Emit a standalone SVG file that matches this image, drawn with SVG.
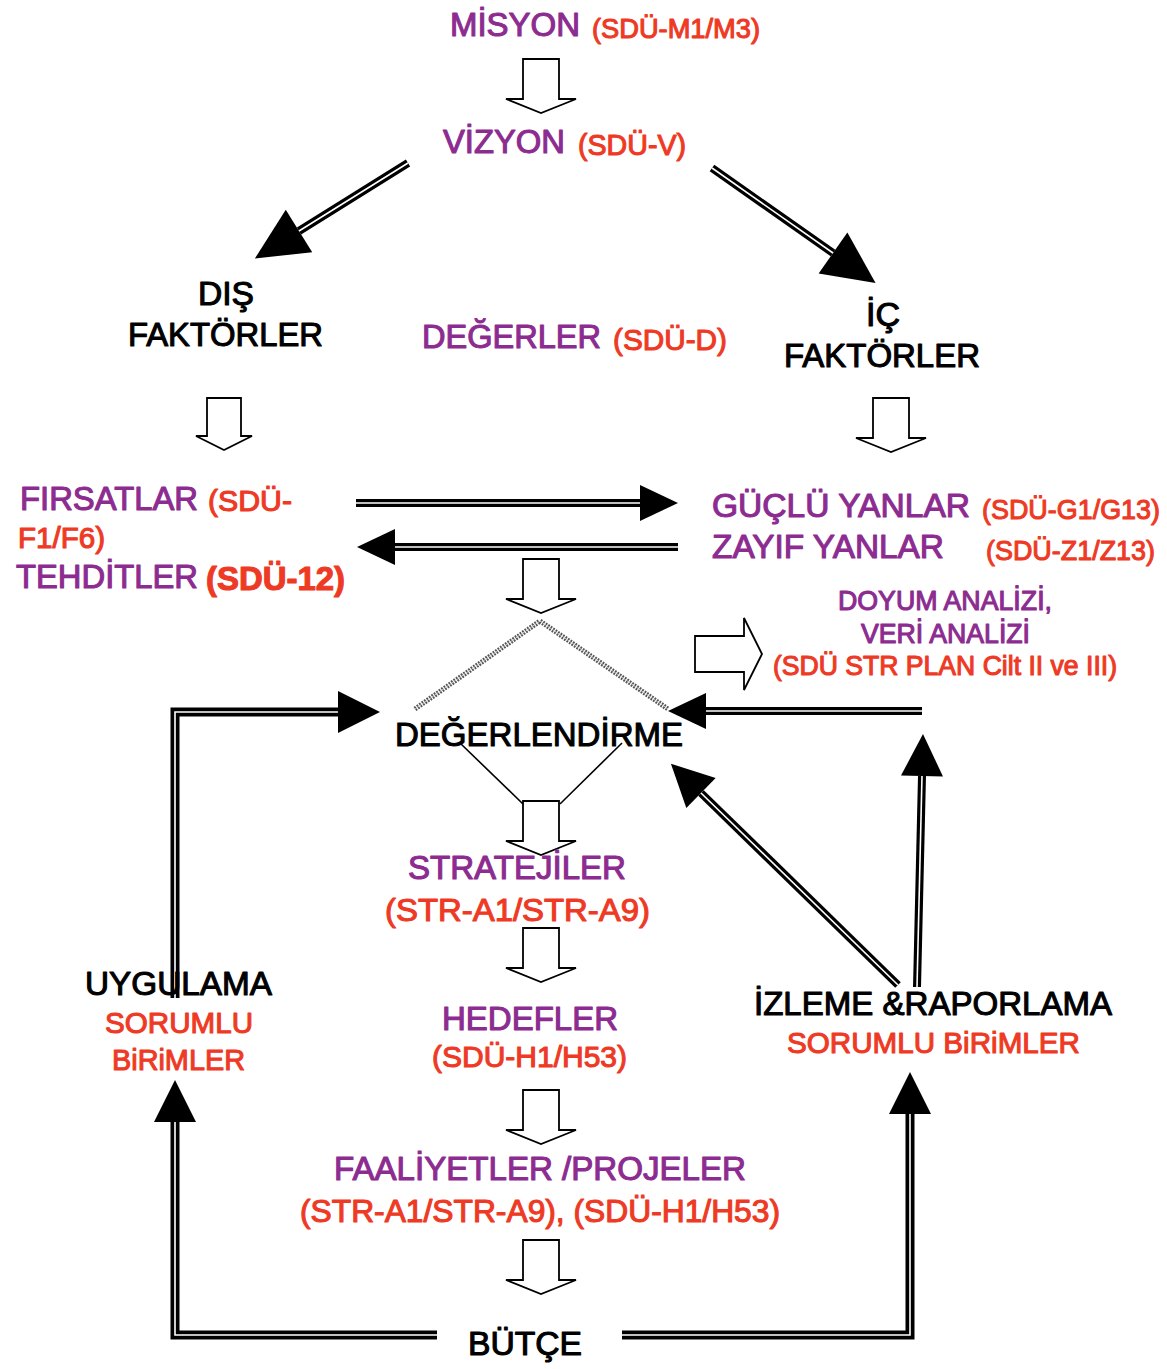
<svg xmlns="http://www.w3.org/2000/svg" width="1167" height="1369" viewBox="0 0 1167 1369">
<style>
text{font-family:"Liberation Sans",Arial,Helvetica,sans-serif;stroke-width:1.1;stroke-linejoin:round}
.p{fill:#8C2C90;stroke:#8C2C90}
.r{fill:#EE3A25;stroke:#EE3A25}
.k{fill:#000;stroke:#000}
.o{fill:none;stroke:#000;stroke-width:8}
.ow{fill:none;stroke:#000;stroke-width:9}
.i{fill:none;stroke:#fff;stroke-width:1.6}
.h{fill:#fff;stroke:#000;stroke-width:1.8;stroke-linejoin:miter}
.thin{fill:none;stroke:#000;stroke-width:1.6}
.hatch{fill:none;stroke:#555;stroke-width:5;stroke-dasharray:1.8 1.2}
.hatchi{fill:none;stroke:#ddd;stroke-width:0.8}
</style>
<defs>
<marker id="hb" markerUnits="userSpaceOnUse" viewBox="0 -25 52 50" markerWidth="52" markerHeight="50" refX="0" refY="0" orient="auto" overflow="visible"><path d="M0,-25 L52,0 L0,25 Z" fill="#000"/></marker>
<marker id="hm" markerUnits="userSpaceOnUse" viewBox="0 -21 42 42" markerWidth="42" markerHeight="42" refX="0" refY="0" orient="auto" overflow="visible"><path d="M0,-21 L42,0 L0,21 Z" fill="#000"/></marker>
<marker id="hs" markerUnits="userSpaceOnUse" viewBox="0 -19 38 38" markerWidth="38" markerHeight="38" refX="0" refY="0" orient="auto" overflow="visible"><path d="M0,-18 L38,0 L0,18 Z" fill="#000"/></marker>
<path id="down" d="M-18,0 H18 V40 H35 L0,54 L-35,40 H-18 Z"/>
<path id="downS" d="M-17,0 H17 V38 H28 L0,52 L-28,38 H-17 Z"/>
</defs>

<g id="connectors">
<use href="#down" class="h" x="541" y="59"/>
<use href="#downS" class="h" x="224" y="398"/>
<use href="#down" class="h" x="891" y="398"/>
<use href="#down" class="h" x="541" y="559"/>
<use href="#down" class="h" x="541" y="801"/>
<use href="#down" class="h" x="541" y="928"/>
<use href="#down" class="h" x="541" y="1090"/>
<use href="#down" class="h" x="541" y="1240"/>
<path class="h" d="M695,636 H744 V618 L762,654 L744,690 V672 H695 Z"/>

<path class="o" d="M408,163 L299,231" marker-end="url(#hb)"/>
<path class="i" d="M408,163 L299,231"/>
<path class="o" d="M712,168 L833,253" marker-end="url(#hb)"/>
<path class="i" d="M712,168 L833,253"/>

<path class="o" d="M356,503 H640" marker-end="url(#hs)"/>
<path class="i" d="M356,503 H640"/>
<path class="o" d="M678,547 H395" marker-end="url(#hs)"/>
<path class="i" d="M678,547 H395"/>

<path class="hatch" d="M415,709 L540,621 L668,709"/>
<path class="hatchi" d="M415,709 L540,621 L668,709"/>

<path class="thin" d="M460,743 L523,804"/>
<path class="thin" d="M622,743 L560,804"/>

<path class="ow" d="M175,998 V712 H338" marker-end="url(#hm)"/>
<path class="i" d="M175,998 V712 H338"/>

<path class="o" d="M922,711 H706" marker-end="url(#hs)"/>
<path class="i" d="M922,711 H706"/>

<path class="o" d="M898,985 L701,793" marker-end="url(#hm)"/>
<path class="i" d="M898,985 L701,793"/>

<path class="o" d="M917,987 L922,776" marker-end="url(#hm)"/>
<path class="i" d="M917,987 L922,776"/>

<path class="ow" d="M437,1335 H175 V1122" marker-end="url(#hm)"/>
<path class="i" d="M437,1335 H175 V1122"/>
<path class="ow" d="M622,1335 H910 V1114" marker-end="url(#hm)"/>
<path class="i" d="M622,1335 H910 V1114"/>
</g>

<g id="misyon">
<text class="p" x="450" y="36" font-size="33" textLength="130" lengthAdjust="spacingAndGlyphs">MİSYON</text>
<text class="r" x="592" y="38" font-size="27" textLength="168" lengthAdjust="spacingAndGlyphs">(SDÜ-M1/M3)</text>
</g>
<g id="vizyon">
<text class="p" x="443" y="153" font-size="33" textLength="122" lengthAdjust="spacingAndGlyphs">VİZYON</text>
<text class="r" x="578" y="155" font-size="29" textLength="108" lengthAdjust="spacingAndGlyphs">(SDÜ-V)</text>
</g>
<g id="dis-faktorler">
<text class="k" x="198" y="305" font-size="33" textLength="56" lengthAdjust="spacingAndGlyphs">DIŞ</text>
<text class="k" x="128" y="346" font-size="33" textLength="195" lengthAdjust="spacingAndGlyphs">FAKTÖRLER</text>
</g>
<g id="degerler">
<text class="p" x="422" y="348" font-size="33" textLength="179" lengthAdjust="spacingAndGlyphs">DEĞERLER</text>
<text class="r" x="613" y="350" font-size="30" textLength="114" lengthAdjust="spacingAndGlyphs">(SDÜ-D)</text>
</g>
<g id="ic-faktorler">
<text class="k" x="866" y="326" font-size="33" textLength="34" lengthAdjust="spacingAndGlyphs">İÇ</text>
<text class="k" x="784" y="367" font-size="33" textLength="196" lengthAdjust="spacingAndGlyphs">FAKTÖRLER</text>
</g>
<g id="firsatlar">
<text class="p" x="20" y="510" font-size="33" textLength="178" lengthAdjust="spacingAndGlyphs">FIRSATLAR</text>
<text class="r" x="208" y="511" font-size="29" textLength="84" lengthAdjust="spacingAndGlyphs">(SDÜ-</text>
<text class="r" x="18" y="548" font-size="29" textLength="87" lengthAdjust="spacingAndGlyphs">F1/F6)</text>
<text class="p" x="16" y="588" font-size="33" textLength="182" lengthAdjust="spacingAndGlyphs">TEHDİTLER</text>
<text class="r" x="206" y="590" font-size="33" font-weight="bold" textLength="139" lengthAdjust="spacingAndGlyphs">(SDÜ-12)</text>
</g>
<g id="guclu-zayif">
<text class="p" x="712" y="517" font-size="33" textLength="258" lengthAdjust="spacingAndGlyphs">GÜÇLÜ YANLAR</text>
<text class="r" x="982" y="519" font-size="28" textLength="178" lengthAdjust="spacingAndGlyphs">(SDÜ-G1/G13)</text>
<text class="p" x="712" y="558" font-size="33" textLength="232" lengthAdjust="spacingAndGlyphs">ZAYIF YANLAR</text>
<text class="r" x="986" y="560" font-size="28" textLength="169" lengthAdjust="spacingAndGlyphs">(SDÜ-Z1/Z13)</text>
</g>
<g id="doyum">
<text class="p" x="838" y="610" font-size="27" textLength="214" lengthAdjust="spacingAndGlyphs">DOYUM ANALİZİ,</text>
<text class="p" x="861" y="643" font-size="27" textLength="169" lengthAdjust="spacingAndGlyphs">VERİ ANALİZİ</text>
<text class="r" x="773" y="675" font-size="27" textLength="344" lengthAdjust="spacingAndGlyphs">(SDÜ STR PLAN Cilt II ve III)</text>
</g>
<g id="degerlendirme">
<text class="k" x="395" y="746" font-size="34" textLength="288" lengthAdjust="spacingAndGlyphs">DEĞERLENDİRME</text>
</g>
<g id="stratejiler">
<text class="p" x="408" y="879" font-size="33" textLength="218" lengthAdjust="spacingAndGlyphs">STRATEJİLER</text>
<text class="r" x="385" y="921" font-size="32" textLength="265" lengthAdjust="spacingAndGlyphs">(STR-A1/STR-A9)</text>
</g>
<g id="hedefler">
<text class="p" x="442" y="1030" font-size="33" textLength="176" lengthAdjust="spacingAndGlyphs">HEDEFLER</text>
<text class="r" x="432" y="1067" font-size="30" textLength="195" lengthAdjust="spacingAndGlyphs">(SDÜ-H1/H53)</text>
</g>
<g id="faaliyetler">
<text class="p" x="334" y="1180" font-size="33" textLength="412" lengthAdjust="spacingAndGlyphs">FAALİYETLER /PROJELER</text>
<text class="r" x="300" y="1222" font-size="31" textLength="480" lengthAdjust="spacingAndGlyphs">(STR-A1/STR-A9), (SDÜ-H1/H53)</text>
</g>
<g id="butce">
<text class="k" x="468" y="1355" font-size="33" textLength="114" lengthAdjust="spacingAndGlyphs">BÜTÇE</text>
</g>
<g id="uygulama">
<text class="k" x="85" y="995" font-size="33" textLength="187" lengthAdjust="spacingAndGlyphs">UYGULAMA</text>
<text class="r" x="105" y="1033" font-size="30" textLength="148" lengthAdjust="spacingAndGlyphs">SORUMLU</text>
<text class="r" x="112" y="1070" font-size="30" textLength="133" lengthAdjust="spacingAndGlyphs">BiRiMLER</text>
</g>
<g id="izleme">
<text class="k" x="754" y="1015" font-size="33" textLength="358" lengthAdjust="spacingAndGlyphs">İZLEME &amp;RAPORLAMA</text>
<text class="r" x="787" y="1053" font-size="30" textLength="293" lengthAdjust="spacingAndGlyphs">SORUMLU BiRiMLER</text>
</g>
</svg>
